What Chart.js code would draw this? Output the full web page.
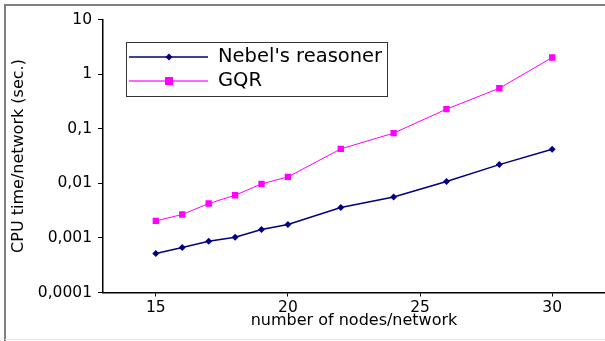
<!DOCTYPE html>
<html>
<head>
  <script src="https://cdn.jsdelivr.net/npm/chart.js"></script>
  <style>
    html, body { margin: 0; background: #fff; overflow: hidden; }
    canvas { display: block; }
  </style>
</head>
<body>
  <canvas id="chart" width="605" height="341"></canvas>
  <script>
    // nodes per network
    const nodes = [15, 16, 17, 18, 19, 20, 22, 24, 26, 28, 30];
    const nebel = [0.00052, 0.00067, 0.00087, 0.00103, 0.00143, 0.00176, 0.0036, 0.0056, 0.0108, 0.022, 0.042];
    const gqr = [0.00205, 0.00268, 0.00426, 0.00605, 0.00975, 0.0131, 0.0426, 0.083, 0.228, 0.55, 2.01];
    const xTicks = [15, 20, 25, 30];
    const yTicks = [0.0001, 0.001, 0.01, 0.1, 1, 10];
    const yTickLabels = ['0,0001', '0,001', '0,01', '0,1', '1', '10'];
    const seriesNames = ["Nebel's reasoner", 'GQR'];

    const FONT = "'DejaVu Sans', sans-serif";
    Chart.defaults.font.family = FONT;
    Chart.defaults.color = '#000';

    // frame + legend box drawn by hand
    const extras = {
      id: 'extras',
      beforeDraw(chart) {
        const c = chart.ctx;
        c.save();
        c.fillStyle = '#fff';
        c.fillRect(0, 0, chart.width, chart.height);
        c.strokeStyle = '#808080';
        c.lineWidth = 2;
        c.beginPath();
        c.moveTo(5, chart.height);
        c.lineTo(5, 5);
        c.lineTo(chart.width, 5);
        c.stroke();
        c.strokeStyle = '#e8e8e8';
        c.lineWidth = 1;
        c.beginPath();
        c.moveTo(5, 339.5);
        c.lineTo(chart.width, 339.5);
        c.stroke();
        c.restore();
      },
      afterDraw(chart) {
        const c = chart.ctx;
        c.save();
        c.fillStyle = '#fff';
        c.fillRect(126, 42, 262, 54);
        c.strokeStyle = '#333';
        c.lineWidth = 1;
        c.strokeRect(126.5, 42.5, 261, 54);
        // nebel
        c.strokeStyle = '#000080';
        c.lineWidth = 1.5;
        c.beginPath(); c.moveTo(129, 57); c.lineTo(208, 57); c.stroke();
        c.fillStyle = '#000080';
        c.beginPath();
        c.moveTo(169, 53.5); c.lineTo(172.5, 57); c.lineTo(169, 60.5); c.lineTo(165.5, 57);
        c.closePath(); c.fill();
        // gqr
        c.strokeStyle = '#ff66ff';
        c.lineWidth = 2;
        c.beginPath(); c.moveTo(129, 81); c.lineTo(208, 81); c.stroke();
        c.fillStyle = '#ff00ff';
        c.fillRect(165, 77, 8, 8);
        c.fillStyle = '#000';
        c.font = '19.5px ' + FONT;
        c.textBaseline = 'middle';
        c.fillText(seriesNames[0], 218, 57);
        c.fillText(seriesNames[1], 218, 81);
        c.restore();
      }
    };

    const noPad = s => { s.paddingLeft = 0; s.paddingRight = 0; s.paddingTop = 0; s.paddingBottom = 0; };

    new Chart(document.getElementById('chart'), {
      type: 'line',
      data: {
        datasets: [{
          label: seriesNames[0],
          data: nodes.map((n, i) => ({ x: n, y: nebel[i] })),
          borderColor: '#000080',
          backgroundColor: '#000080',
          borderWidth: 1.5,
          pointStyle: 'rectRot',
          pointRadius: 3.5,
          pointBorderWidth: 0
        }, {
          label: seriesNames[1],
          data: nodes.map((n, i) => ({ x: n, y: gqr[i] })),
          borderColor: '#ff00ff',
          backgroundColor: '#ff00ff',
          borderWidth: 1,
          pointStyle: 'rect',
          pointRadius: 4.5,
          pointBorderWidth: 0
        }]
      },
      options: {
        responsive: false,
        animation: false,
        layout: { autoPadding: false, padding: { left: 0, top: 19.5, right: 0, bottom: 0 } },
        plugins: { legend: { display: false }, tooltip: { enabled: false } },
        scales: {
          x: {
            type: 'linear',
            min: 13,
            max: 32,
            afterBuildTicks: s => { s.ticks = xTicks.map(v => ({ value: v })); },
            afterFit: s => { s.height = 48.5; noPad(s); },
            grid: { drawOnChartArea: false, tickLength: 4, color: '#000' },
            border: { color: '#000', width: 1.5 },
            ticks: { font: { size: 15.5 }, padding: 2, maxRotation: 0 },
            title: { display: true, text: 'number of nodes/network', font: { size: 16 }, padding: { top: 0, bottom: 11 } }
          },
          y: {
            type: 'logarithmic',
            min: 0.0001,
            max: 10,
            afterBuildTicks: s => { s.ticks = yTicks.map(v => ({ value: v })); },
            afterFit: s => { s.width = 103; noPad(s); },
            grid: { drawOnChartArea: false, tickLength: 5, color: '#000' },
            border: { color: '#000', width: 1.5 },
            ticks: {
              font: { size: 15.5 },
              padding: 6,
              callback: (v) => { const i = yTicks.indexOf(v); return i >= 0 ? yTickLabels[i] : ''; }
            },
            title: { display: true, text: 'CPU time/network (sec.)', font: { size: 16 }, padding: { top: 9, bottom: 0 } }
          }
        }
      },
      plugins: [extras]
    });
  </script>
</body>
</html>
